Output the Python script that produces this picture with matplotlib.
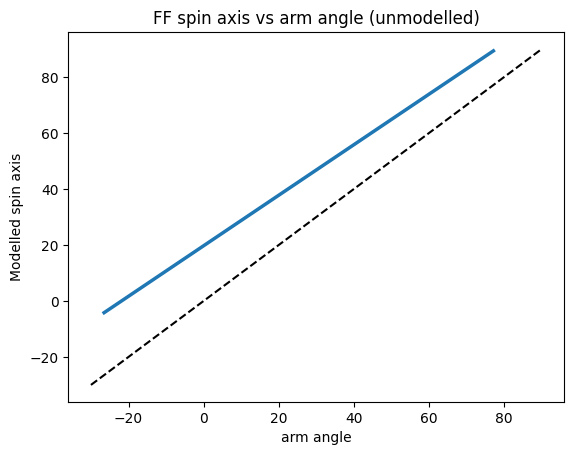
import matplotlib
matplotlib.use("Agg")
import matplotlib.pyplot as plt

plt.rcParams['font.family'] = ['DejaVu Sans']

arm_angle = [-26.5, 77.1]
modelled_spin_axis = [-4.2, 89.3]
ref_x = [-30, 90]
ref_y = [-30, 90]

fig, ax = plt.subplots(figsize=(6.4, 4.8), dpi=100)
ax.plot(arm_angle, modelled_spin_axis, color='#1f77b4', lw=2.5)
ax.plot(ref_x, ref_y, 'k--')
ax.set_title('FF spin axis vs arm angle (unmodelled)')
ax.set_xlabel('arm angle')
ax.set_ylabel('Modelled spin axis')
fig.savefig('out.png', bbox_inches='tight')
